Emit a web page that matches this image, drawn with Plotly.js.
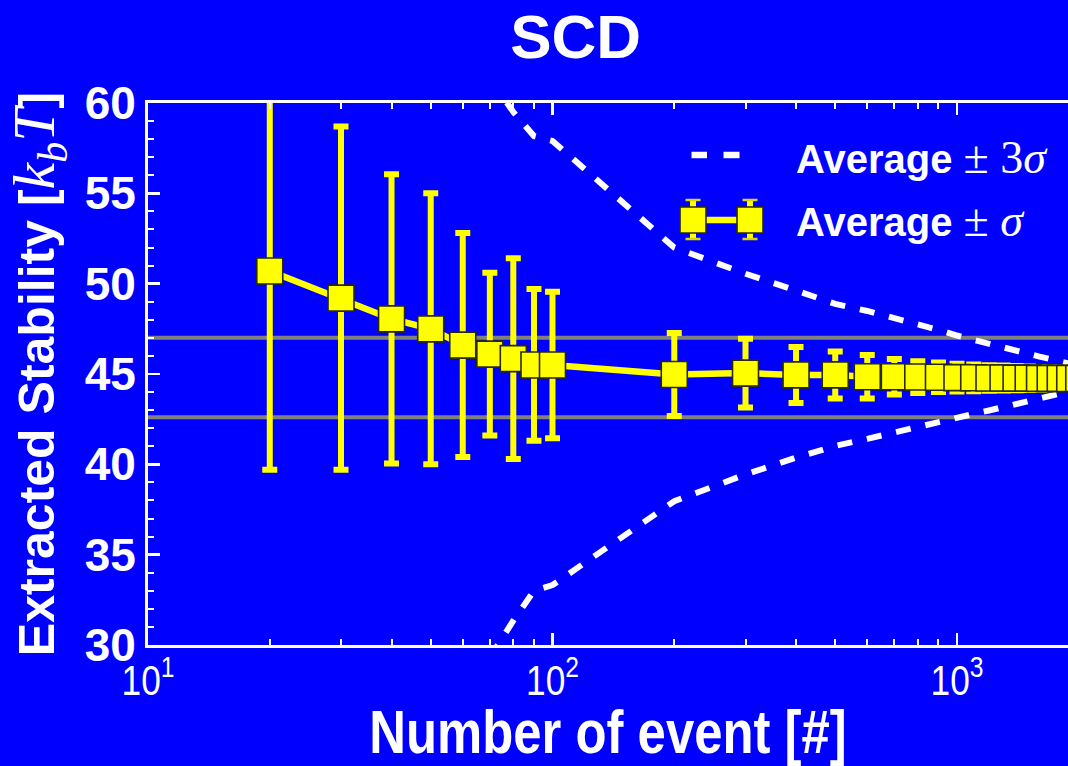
<!DOCTYPE html>
<html>
<head>
<meta charset="utf-8">
<script src="https://cdn.plot.ly/plotly-3.0.1.min.js"></script>
<style>
  html, body { margin: 0; padding: 0; background: #0000ff; }
  #chart { width: 1068px; height: 766px; }
</style>
</head>
<body>
<div id="chart"></div>
<script>
// Number of events used for each running estimate
const events = [20, 30, 40, 50, 60, 70, 80, 90, 100,
                200, 300, 400, 500, 600, 700, 800, 900,
                1000, 1100, 1200, 1300, 1400, 1500, 1600, 1700, 1800, 1900, 2000];
// Running average of the extracted stability (k_b T)
const average = [50.7, 49.2, 48.05, 47.5, 46.6, 46.1, 45.85, 45.5, 45.5,
                 44.97, 45.05, 44.95, 44.95, 44.85, 44.85, 44.83, 44.82,
                 44.8, 44.79, 44.78, 44.78, 44.77, 44.77, 44.76, 44.76, 44.76, 44.75, 44.75];
// One standard deviation of the running estimate
const sigma = [11.0, 9.5, 8.0, 7.5, 6.2, 4.5, 5.55, 4.2, 4.05,
               2.3, 1.9, 1.55, 1.3, 1.2, 0.98, 0.88, 0.82,
               0.77, 0.74, 0.71, 0.69, 0.67, 0.65, 0.63, 0.61, 0.59, 0.58, 0.56];

// Average +/- 3 sigma envelope
const envelopeEvents = [70, 80, 90, 100, 200, 300, 400, 500, 600, 700, 800, 900,
                        1000, 1100, 1200, 1300, 1400, 1500, 1600, 1700, 1800, 1900, 2000];
const envelopeUpper = [61.4, 59.5, 58.17, 57.9, 52.0, 50.55, 49.62, 48.88, 48.49, 48.1, 47.8, 47.44,
                       47.13, 46.88, 46.66, 46.47, 46.29, 46.14, 45.96, 45.83, 45.7, 45.56, 45.45];
const envelopeLower = [29.3, 31.35, 33.0, 33.32, 37.96, 39.44, 40.37, 41.02, 41.41, 41.74, 42.04, 42.29,
                       42.57, 42.79, 42.98, 43.18, 43.34, 43.51, 43.65, 43.79, 43.92, 44.03, 44.14];

// Reference band (grey horizontal lines)
const bandLevels = [42.6, 47.0];

// Axis ticks
const xTickVals = [10, 100, 1000];
const xTickText = ['10<sup>1</sup>', '10<sup>2</sup>', '10<sup>3</sup>'];
const yTickVals = [30, 35, 40, 45, 50, 55, 60];

// Legend labels
const MATH = 'font-family:\'Liberation Serif\';font-weight:normal;font-size:46px';
const legendLabels = [
  'Average <span style="' + MATH + '">± 3<i>σ</i></span>',
  'Average <span style="' + MATH + '">± <i>σ</i></span>'
];

const BLUE = '#0000ff';
const YELLOW = '#ffff00';
const WHITE = '#ffffff';
const SANS = 'Liberation Sans, Arial, sans-serif';
const NARROW_SCALE = 0.82;   // horizontal squeeze giving a narrow sans look

// Plot-area geometry (pixels) used to place the hand-drawn legend
const M = { l: 148, r: 0, t: 103, b: 121 };
const W = 1068, H = 766;
const PW = W - M.l - M.r, PH = H - M.t - M.b;
const px = x => (x - M.l) / PW;
const py = y => (H - M.b - y) / PH;

const traces = [
  {
    x: envelopeEvents, y: envelopeUpper, type: 'scatter', mode: 'lines',
    line: { color: WHITE, width: 6, dash: '15px,15px' }, hoverinfo: 'skip'
  },
  {
    x: envelopeEvents, y: envelopeLower, type: 'scatter', mode: 'lines',
    line: { color: WHITE, width: 6, dash: '15px,15px' }, hoverinfo: 'skip'
  },
  {
    x: events, y: average, type: 'scatter', mode: 'lines+markers',
    line: { color: YELLOW, width: 6.5 },
    marker: { symbol: 'square', size: 26, color: YELLOW, line: { color: '#2a2a00', width: 1.6 } },
    error_y: { type: 'data', array: sigma, visible: true, color: YELLOW, thickness: 6, width: 7.5 }
  }
];

const shapes = bandLevels.map(v => ({
  type: 'line', xref: 'paper', x0: 0, x1: 1, yref: 'y', y0: v, y1: v,
  line: { color: '#808080', width: 4 }, layer: 'below'
}));

// Legend entry 1: dashed line
[[691.5, 707], [723.5, 739.5]].forEach(([a, b]) => {
  shapes.push({ type: 'line', xref: 'paper', yref: 'paper',
    x0: px(a), x1: px(b), y0: py(155), y1: py(155),
    line: { color: WHITE, width: 6.5 } });
});
// Legend entry 2: marker - line - marker with error bars
const legY = 220;
shapes.push({ type: 'line', xref: 'paper', yref: 'paper',
  x0: px(693), x1: px(750), y0: py(legY), y1: py(legY),
  line: { color: YELLOW, width: 6.5 } });
[693, 750].forEach(cx => {
  shapes.push({ type: 'line', xref: 'paper', yref: 'paper',
    x0: px(cx), x1: px(cx), y0: py(legY - 20), y1: py(legY + 19),
    line: { color: YELLOW, width: 6 } });
  [legY - 20, legY + 19].forEach(cy => {
    shapes.push({ type: 'line', xref: 'paper', yref: 'paper',
      x0: px(cx - 7.5), x1: px(cx + 7.5), y0: py(cy), y1: py(cy),
      line: { color: '#d8d800', width: 2.5 } });
  });
  shapes.push({ type: 'rect', xref: 'paper', yref: 'paper',
    x0: px(cx - 13), x1: px(cx + 13), y0: py(legY - 13), y1: py(legY + 13),
    fillcolor: YELLOW, line: { color: '#2a2a00', width: 1.6 } });
});

const annotations = [
  { text: legendLabels[0], y: py(157) },
  { text: legendLabels[1], y: py(220) }
].map(a => ({
  text: a.text, xref: 'paper', yref: 'paper', x: px(794), y: a.y,
  xanchor: 'left', yanchor: 'middle', showarrow: false,
  font: { family: SANS, size: 40, weight: 'bold', color: WHITE }
}));

const layout = {
  width: W, height: H,
  margin: { l: M.l, r: M.r, t: M.t, b: M.b, pad: 0 },
  paper_bgcolor: BLUE, plot_bgcolor: BLUE,
  showlegend: false,
  title: {
    text: 'SCD', xref: 'container', yref: 'container',
    x: 0.539, xanchor: 'center', y: 0.952, yanchor: 'middle',
    font: { family: SANS, size: 62, weight: 'bold', color: WHITE }
  },
  xaxis: {
    type: 'log', range: [1, 1 + PW / 404.5],
    showline: true, linecolor: WHITE, linewidth: 3, mirror: 'ticks',
    ticks: 'inside', ticklen: 12, tickwidth: 2.5, tickcolor: WHITE,
    tickmode: 'array', tickvals: xTickVals, ticktext: xTickText,
    tickfont: { family: SANS, size: 43, color: WHITE },
    minor: { ticks: 'inside', ticklen: 6, tickwidth: 2, tickcolor: WHITE, dtick: 'D1', showgrid: false },
    showgrid: false, zeroline: false,
    title: { text: 'Number of event [#]', standoff: 8,
      font: { family: SANS, size: 62, weight: 'bold', color: WHITE } }
  },
  yaxis: {
    range: [30, 60],
    showline: true, linecolor: WHITE, linewidth: 3, mirror: false,
    ticks: 'inside', ticklen: 12, tickwidth: 2.5, tickcolor: WHITE,
    tickmode: 'array', tickvals: yTickVals,
    tickfont: { family: SANS, size: 46, weight: 'bold', color: WHITE },
    minor: { ticks: 'inside', ticklen: 6, tickwidth: 2, tickcolor: WHITE, dtick: 1, showgrid: false },
    showgrid: false, zeroline: false,
    title: {
      text: 'Extracted Stability [<span style="font-family:\'Liberation Serif\';font-weight:normal;font-size:60px"><i>k<sub>b</sub>T</i></span>]',
      standoff: 2,
      font: { family: SANS, size: 50, weight: 'bold', color: WHITE }
    }
  },
  shapes: shapes,
  annotations: annotations
};

// Squeeze a text element horizontally about its own centre
function narrow(el, s) {
  const bb = el.getBBox();
  const cx = bb.x + bb.width / 2;
  const prev = el.getAttribute('transform') || '';
  el.setAttribute('transform', prev + ' translate(' + cx + ',0) scale(' + s + ',1) translate(' + (-cx) + ',0)');
}

function shift(el, dx, dy) {
  const prev = el.getAttribute('transform') || '';
  el.setAttribute('transform', 'translate(' + dx + ',' + dy + ') ' + prev);
}

Plotly.newPlot('chart', traces, layout, { displayModeBar: false, staticPlot: true }).then(gd => {
  gd.querySelectorAll('.xtick text, .g-xtitle text').forEach(el => narrow(el, NARROW_SCALE));
  // tuck the decade labels a little closer to the axis
  gd.querySelectorAll('.xtick text').forEach(el => shift(el, 0, -5));
  // nudge the vertical axis title closer to the page edge
  gd.querySelectorAll('.g-ytitle').forEach(g => shift(g, -9, 0));
});
</script>
</body>
</html>
